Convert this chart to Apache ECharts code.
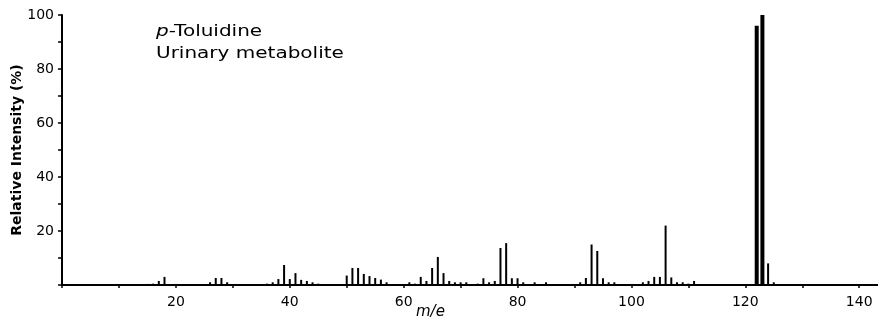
<!DOCTYPE html>
<html>
<head>
<meta charset="utf-8">
<script src="https://cdn.jsdelivr.net/npm/echarts@6/dist/echarts.min.js"></script>
<style>
  html, body { margin: 0; padding: 0; background: #fff; }
  #chart { width: 878px; height: 322px; }
</style>
</head>
<body>
<div id="chart"></div>
<script>
// m/e values and relative intensities (%)
const masses = [
  15, 16, 17, 18,
  26, 27, 28, 29,
  36, 37, 38, 39, 40, 41, 42, 43, 44, 45,
  50, 51, 52, 53, 54, 55, 56, 57,
  61, 62, 63, 64, 65, 66, 67, 68, 69, 70, 71,
  73, 74, 75, 76, 77, 78, 79, 80, 81, 83, 85,
  91, 92, 93, 94, 95, 96, 97,
  102, 103, 104, 105, 106, 107, 108, 109, 110, 111,
  122, 123, 124, 125
];
const intensities = [
  0.4, 0.5, 1.5, 3,
  1, 2.6, 2.6, 1,
  0.5, 1, 2.2, 7.4, 2.2, 4.4, 1.9, 1.5, 1, 0.5,
  3.5, 6.3, 6.3, 4.1, 3.3, 2.6, 2, 1,
  1, 0.5, 3, 1.5, 6.3, 10.4, 4.4, 1.5, 1, 1, 1,
  0.5, 2.5, 1, 1.5, 13.7, 15.5, 2.5, 2.5, 1, 1, 1,
  1, 2.6, 15, 12.6, 2.5, 1, 1,
  1, 1.5, 3, 3, 22, 2.8, 1, 1, 0.5, 1.5,
  96, 100, 8, 1
];
const xTickLabels = [20, 40, 60, 80, 100, 120, 140];
const yTickLabels = [20, 40, 60, 80, 100];

const peaks = masses.map((m, i) => [m, intensities[i]]);

const chart = echarts.init(document.getElementById('chart'), null, { renderer: 'canvas' });
const font = '"DejaVu Sans", "Liberation Sans", sans-serif';

chart.setOption({
  animation: false,
  backgroundColor: '#fff',
  grid: { left: 62, right: 0, top: 15, bottom: 37, outerBoundsMode: 'none' },
  xAxis: {
    type: 'value',
    min: 0,
    max: 143.3,
    interval: 10,
    axisLine: { show: true, onZero: false, lineStyle: { color: '#000', width: 2 } },
    axisTick: { show: true, inside: false, length: 3, lineStyle: { color: '#000', width: 1.5 } },
    axisLabel: {
      color: '#000',
      fontFamily: font,
      fontSize: 14,
      margin: 10,
      showMaxLabel: false,
      formatter: (v) => (xTickLabels.includes(v) ? String(v) : '')
    },
    splitLine: { show: false }
  },
  yAxis: {
    type: 'value',
    min: 0,
    max: 100,
    interval: 10,
    name: 'Relative Intensity (%)',
    nameLocation: 'middle',
    nameGap: 38,
    nameMoveOverlap: false,
    nameRotate: 90,
    nameTextStyle: { color: '#000', fontFamily: font, fontSize: 14, fontWeight: 'bold' },
    axisLine: { show: true, lineStyle: { color: '#000', width: 2 } },
    axisTick: { show: true, inside: false, length: 4, lineStyle: { color: '#000', width: 1.5 } },
    axisLabel: {
      color: '#000',
      fontFamily: font,
      fontSize: 14,
      margin: 8,
      formatter: (v) => (yTickLabels.includes(v) ? String(v) : '')
    },
    splitLine: { show: false }
  },
  graphic: [
    {
      type: 'text',
      left: 156,
      top: 24,
      scaleX: 1.25,
      style: {
        text: '{i|p}-Toluidine',
        fill: '#000',
        font: '16px ' + font,
        rich: {
          i: { fontStyle: 'italic', fontFamily: font, fontSize: 16, fill: '#000' }
        }
      }
    },
    {
      type: 'text',
      left: 156,
      top: 46,
      scaleX: 1.25,
      style: { text: 'Urinary metabolite', fill: '#000', font: '16px ' + font }
    },
    {
      type: 'text',
      left: 416,
      top: 305,
      style: { text: 'm/e', fill: '#000', font: 'italic 15px ' + font }
    }
  ],
  series: [
    {
      type: 'custom',
      data: peaks,
      renderItem: (params, api) => {
        const m = api.value(0);
        const v = api.value(1);
        const base = api.coord([m, 0]);
        const top = api.coord([m, v]);
        const w = v > 50 ? 4 : 2;
        return {
          type: 'rect',
          shape: { x: base[0] - w / 2, y: top[1], width: w, height: base[1] - top[1] },
          style: { fill: '#000' }
        };
      }
    }
  ]
});
</script>
</body>
</html>
